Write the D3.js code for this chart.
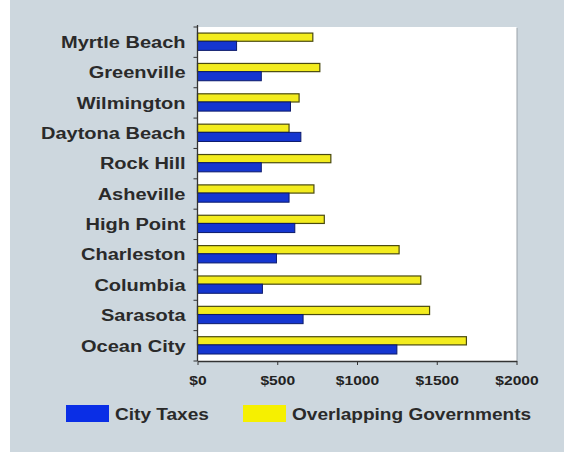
<!DOCTYPE html>
<html><head><meta charset="utf-8">
<script src="https://cdn.jsdelivr.net/npm/d3@7"></script>
<style>body{margin:0;background:#fff}svg{display:block}</style>
</head><body>
<script>
const cities = ["Myrtle Beach","Greenville","Wilmington","Daytona Beach","Rock Hill","Asheville","High Point","Charleston","Columbia","Sarasota","Ocean City"];
const cityTaxes = [245,400,583,648,400,574,610,495,407,662,1250];
const overlapping = [723,767,637,574,836,730,795,1264,1400,1455,1686];
const tickValues = [0,500,1000,1500,2000];
const tickLabels = ["$0","$500","$1000","$1500","$2000"];
const seriesNames = ["City Taxes","Overlapping Governments"];

const W=564,H=452;
const svg=d3.select("body").append("svg").attr("width",W).attr("height",H);
svg.append("rect").attr("width",W).attr("height",H).attr("fill","#ffffff");
svg.append("rect").attr("x",10).attr("width",W-10).attr("height",H).attr("fill","#cdd7de");

const L=197.5,R=516.5,T=27,B=361;
const x=d3.scaleLinear().domain([0,2000]).range([L,R]);
const y=d3.scaleBand().domain(cities).range([T,B]);
const FONT="Liberation Sans, Arial, sans-serif";

function stretch(sel,f){
  sel.each(function(){const w=this.getComputedTextLength();
    d3.select(this).attr("textLength",w*f).attr("lengthAdjust","spacingAndGlyphs");});
}

// plot area
svg.append("rect").attr("x",L+1).attr("y",T+1).attr("width",R-L).attr("height",B-T).attr("fill","#9aa2a8");
svg.append("rect").attr("x",L).attr("y",T).attr("width",R-L).attr("height",B-T).attr("fill","#ffffff");

const g=svg.append("g");
const bw=y.bandwidth();
g.selectAll("rect.ov").data(cities).join("rect").attr("class","ov")
 .attr("x",x(0)).attr("y",d=>y(d)+bw*0.2).attr("height",bw*0.27)
 .attr("width",(d,i)=>x(overlapping[i])-x(0))
 .attr("fill","#f3ec1e").attr("stroke","#4a4a10").attr("stroke-width",1.2);
g.selectAll("rect.ct").data(cities).join("rect").attr("class","ct")
 .attr("x",x(0)).attr("y",d=>y(d)+bw*0.47).attr("height",bw*0.3)
 .attr("width",(d,i)=>x(cityTaxes[i])-x(0))
 .attr("fill","#1536d0").attr("stroke","#0c1a6a").attr("stroke-width",1);

// x axis
const xa=svg.append("g").attr("transform",`translate(0,${B})`)
 .call(d3.axisBottom(x).tickValues(tickValues).tickFormat((d,i)=>tickLabels[i]).tickSize(4).tickSizeOuter(0));
xa.select(".domain").attr("stroke","#333").attr("stroke-width",1.3);
xa.selectAll(".tick line").attr("stroke","#333");
xa.selectAll("text").attr("font-family",FONT).attr("font-weight","bold")
 .attr("font-size",12).attr("fill","#222").attr("dy","1.45em");
stretch(xa.selectAll("text"),1.3);

// y axis
const ya=svg.append("g").attr("transform",`translate(${L},0)`);
ya.append("line").attr("x1",0).attr("x2",0).attr("y1",T-2).attr("y2",B).attr("stroke","#333").attr("stroke-width",1.3);
ya.selectAll("line.t").data(cities.concat(["_end"])).join("line").attr("class","t")
 .attr("x1",-4).attr("x2",0)
 .attr("y1",(d,i)=>i<cities.length?y(d):B).attr("y2",(d,i)=>i<cities.length?y(d):B)
 .attr("stroke","#333");
const yl=ya.selectAll("text").data(cities).join("text")
 .attr("x",-12).attr("y",d=>y(d)+bw/2).attr("dy","0.36em").attr("text-anchor","end")
 .attr("font-family",FONT).attr("font-weight","bold")
 .attr("font-size",16).attr("fill","#2a2a2a").text(d=>d);
stretch(yl,1.25);

// legend
const lg=svg.append("g");
const sw=[{x:66,c:"#0a2ee6",t:seriesNames[0]},{x:243,c:"#f6f000",t:seriesNames[1]}];
lg.selectAll("rect").data(sw).join("rect").attr("x",d=>d.x).attr("y",405).attr("width",43).attr("height",17).attr("fill",d=>d.c);
const lt=lg.selectAll("text").data(sw).join("text").attr("x",d=>d.x+49).attr("y",420)
 .attr("font-family",FONT).attr("font-weight","bold")
 .attr("font-size",16).attr("fill","#2a2a2a").text(d=>d.t);
stretch(lt,1.19);
</script>
</body></html>
